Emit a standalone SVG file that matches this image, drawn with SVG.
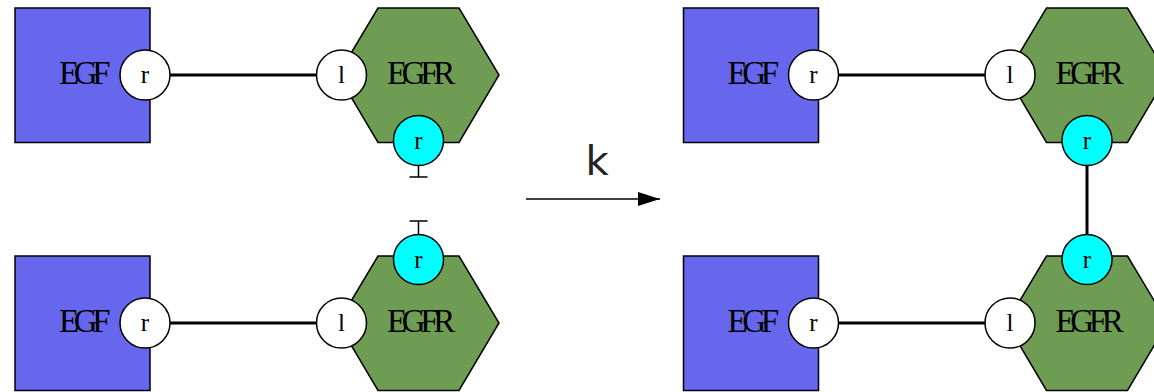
<svg xmlns="http://www.w3.org/2000/svg" width="1154" height="392" viewBox="0 0 1154 392">
<defs>
<style>
.egf{fill:#6767ee;stroke:#000;stroke-width:1.5}
.egfr{fill:#6e9c53;stroke:#000;stroke-width:1.5}
.port{fill:#fff;stroke:#000;stroke-width:1.5}
.site{fill:#00ffff;stroke:#000;stroke-width:1.5}
.lbl{font-family:"Liberation Serif","Times New Roman",serif;font-size:33px;letter-spacing:-5.4px;fill:#000}
.plbl{font-family:"Liberation Serif","Times New Roman",serif;font-size:25px;text-anchor:middle;fill:#000}
.bond{stroke:#000;stroke-width:3;fill:none}
.tee{stroke:#000;stroke-width:1.5;fill:none}
.arr{stroke:#000;stroke-width:1.5;fill:none}
</style>
<marker id="ah" markerWidth="22" markerHeight="14" refX="22" refY="7" orient="auto" markerUnits="userSpaceOnUse">
<path d="M0,0 L22,7 L0,14 Z" fill="#000"/>
</marker>
</defs>
<rect width="1154" height="392" fill="#fff"/>

<g id="connectors">
<line class="bond" x1="170" y1="75" x2="317" y2="75"/>
<line class="bond" x1="170" y1="323" x2="317" y2="323"/>
<line class="bond" x1="838.5" y1="75" x2="985.5" y2="75"/>
<line class="bond" x1="838.5" y1="323" x2="985.5" y2="323"/>
<line class="bond" x1="1087" y1="165" x2="1087" y2="234"/>
<path class="tee" d="M418.5,166 V177 M409.5,177 H427.5"/>
<path class="tee" d="M418.5,234 V221 M409.5,221 H427.5"/>
<line class="arr" x1="526" y1="199" x2="660" y2="199" marker-end="url(#ah)"/>
<text x="597" y="175" font-family="DejaVu Sans, sans-serif" font-size="40" fill="#222" text-anchor="middle">k</text>
</g>

<g id="egf-tl">
<rect class="egf" x="15" y="8" width="135" height="134.5"/>
<text class="lbl" x="59" y="84">EGF</text>
<circle class="port" cx="145" cy="75" r="25"/>
<text class="plbl" x="145" y="83">r</text>
</g>
<g id="egfr-tl">
<polygon class="egfr" points="338,75 378,8 459,8 499,75 459,142.5 378,142.5"/>
<text class="lbl" x="387" y="83.5">EGFR</text>
<circle class="port" cx="341.5" cy="75" r="25"/>
<text class="plbl" x="341.5" y="83">l</text>
<circle class="site" cx="418.5" cy="140.5" r="25"/>
<text class="plbl" x="418.5" y="149">r</text>
</g>

<g id="egf-bl">
<rect class="egf" x="15" y="256" width="135" height="134.5"/>
<text class="lbl" x="59" y="332">EGF</text>
<circle class="port" cx="145" cy="323" r="25"/>
<text class="plbl" x="145" y="331">r</text>
</g>
<g id="egfr-bl">
<polygon class="egfr" points="338,323 378,256 459,256 499,323 459,390.5 378,390.5"/>
<text class="lbl" x="387" y="331.5">EGFR</text>
<circle class="port" cx="341.5" cy="323" r="25"/>
<text class="plbl" x="341.5" y="331">l</text>
<circle class="site" cx="418.5" cy="259.5" r="25"/>
<text class="plbl" x="418.5" y="268">r</text>
</g>

<g id="egf-tr">
<rect class="egf" x="683.5" y="8" width="135" height="134.5"/>
<text class="lbl" x="727.5" y="84">EGF</text>
<circle class="port" cx="813.5" cy="75" r="25"/>
<text class="plbl" x="813.5" y="83">r</text>
</g>
<g id="egfr-tr">
<polygon class="egfr" points="1006.5,75 1046.5,8 1127.5,8 1167.5,75 1127.5,142.5 1046.5,142.5"/>
<text class="lbl" x="1055.5" y="83.5">EGFR</text>
<circle class="port" cx="1010" cy="75" r="25"/>
<text class="plbl" x="1010" y="83">l</text>
<circle class="site" cx="1087" cy="140.5" r="25"/>
<text class="plbl" x="1087" y="149">r</text>
</g>

<g id="egf-br">
<rect class="egf" x="683.5" y="256" width="135" height="134.5"/>
<text class="lbl" x="727.5" y="332">EGF</text>
<circle class="port" cx="813.5" cy="323" r="25"/>
<text class="plbl" x="813.5" y="331">r</text>
</g>
<g id="egfr-br">
<polygon class="egfr" points="1006.5,323 1046.5,256 1127.5,256 1167.5,323 1127.5,390.5 1046.5,390.5"/>
<text class="lbl" x="1055.5" y="331.5">EGFR</text>
<circle class="port" cx="1010" cy="323" r="25"/>
<text class="plbl" x="1010" y="331">l</text>
<circle class="site" cx="1087" cy="259.5" r="25"/>
<text class="plbl" x="1087" y="268">r</text>
</g>
</svg>
